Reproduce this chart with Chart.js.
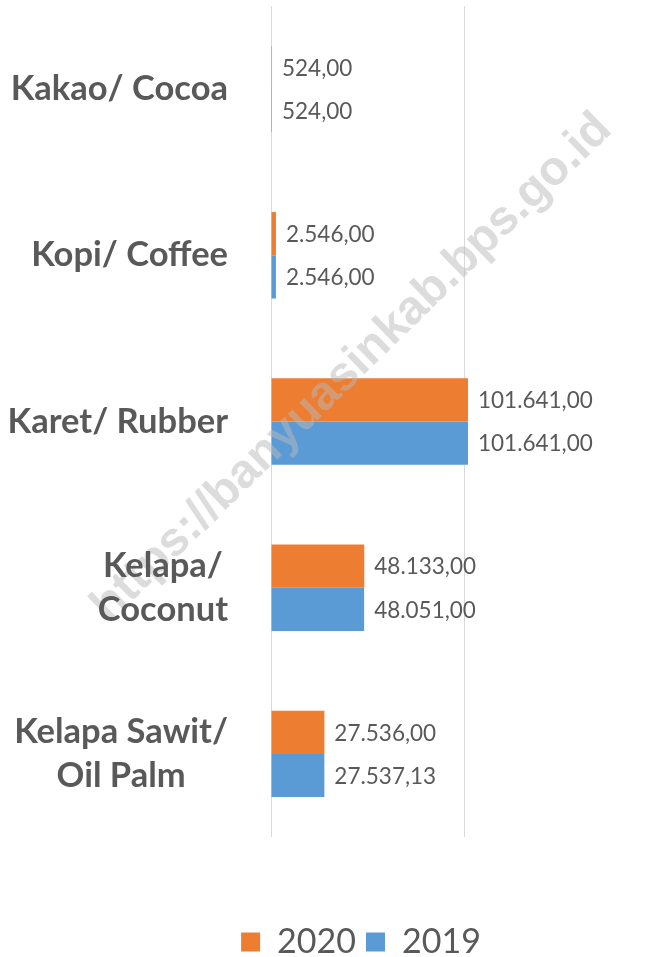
<!DOCTYPE html>
<html>
<head>
<meta charset="utf-8">
<script src="https://cdn.jsdelivr.net/npm/chart.js@4.4.1/dist/chart.umd.min.js"></script>
<style>
  html, body { margin: 0; padding: 0; background: #fff; }
  #wrap { width: 647px; height: 957px; }
</style>
</head>
<body>
<div id="wrap"><canvas id="chart"></canvas></div>
<script>
const categories = [['Kakao/ Cocoa'], ['Kopi/ Coffee'], ['Karet/ Rubber'], ['Kelapa/', 'Coconut'], ['Kelapa Sawit/', 'Oil Palm']];
const values2020 = [524, 2546, 101641, 48133, 27536];
const values2019 = [524, 2546, 101641, 48051, 27537.13];
const seriesNames = ['2020', '2019'];
const gridTicks = [0, 100000];

const textColor = '#595959';
const watermark = 'https://banyuasinkab.bps.go.id';

function formatId(v) {
    const parts = v.toFixed(2).split('.');
    return parts[0].replace(/\B(?=(\d{3})+(?!\d))/g, '.') + ',' + parts[1];
}

// category names: block right aligned next to the axis, lines centered
const categoryLabels = {
    id: 'categoryLabels',
    afterDraw(chart) {
        const ctx = chart.ctx;
        const y = chart.scales.y;
        const lineHeight = 44;
        ctx.save();
        ctx.font = 'bold 34.5px Lato';
        ctx.fillStyle = textColor;
        ctx.textAlign = 'center';
        ctx.textBaseline = 'middle';
        categories.forEach((lines, i) => {
            const maxW = Math.max(...lines.map(l => ctx.measureText(l).width));
            const cx = 228 - maxW / 2;
            const top = y.getPixelForValue(i) - (lines.length - 1) * lineHeight / 2;
            lines.forEach((line, j) => ctx.fillText(line, cx, top + j * lineHeight));
        });
        ctx.restore();
    }
};

const valueLabels = {
    id: 'valueLabels',
    afterDatasetsDraw(chart) {
        const ctx = chart.ctx;
        ctx.save();
        ctx.font = '22.5px Lato';
        ctx.fillStyle = textColor;
        ctx.textAlign = 'left';
        ctx.textBaseline = 'middle';
        chart.data.datasets.forEach((ds, di) => {
            chart.getDatasetMeta(di).data.forEach((bar, i) => {
                ctx.fillText(formatId(ds.data[i]), bar.x + 10, bar.y + 1);
            });
        });
        ctx.restore();
    }
};

const watermarkText = {
    id: 'watermarkText',
    afterDraw(chart) {
        const ctx = chart.ctx;
        ctx.save();
        ctx.translate(352, 368);
        ctx.rotate(-44.3 * Math.PI / 180);
        ctx.font = 'bold 40px "Liberation Sans"';
        const w = ctx.measureText(watermark).width;
        const size = 40 * 705 / w;
        ctx.font = 'bold ' + size + 'px "Liberation Sans"';
        ctx.fillStyle = 'rgba(185, 185, 185, 0.5)';
        ctx.textAlign = 'center';
        ctx.textBaseline = 'middle';
        ctx.fillText(watermark, 0, 0);
        ctx.restore();
    }
};

new Chart(document.getElementById('chart'), {
    type: 'bar',
    data: {
        labels: categories,
        datasets: [
            { label: seriesNames[0], data: values2020, backgroundColor: '#ED7D31' },
            { label: seriesNames[1], data: values2019, backgroundColor: '#5B9BD5' }
        ]
    },
    options: {
        indexAxis: 'y',
        responsive: true,
        maintainAspectRatio: false,
        animation: false,
        categoryPercentage: 0.52,
        barPercentage: 1,
        layout: { padding: { left: 75, right: 0, top: 6, bottom: -12 } },
        scales: {
            x: {
                min: 0,
                max: 194000,
                afterBuildTicks: scale => { scale.ticks = gridTicks.map(v => ({ value: v })); },
                afterFit: scale => { scale.height = 78; },
                ticks: { display: false },
                grid: { color: '#d9d9d9', drawTicks: false },
                border: { display: false }
            },
            y: {
                afterFit: scale => { scale.width = 196; },
                ticks: { display: false },
                grid: { display: false },
                border: { display: false }
            }
        },
        plugins: {
            legend: {
                position: 'bottom',
                labels: {
                    boxWidth: 19,
                    boxHeight: 19,
                    color: textColor,
                    font: { family: 'Lato', size: 34 },
                    padding: 10
                }
            },
            tooltip: { enabled: false }
        }
    },
    plugins: [valueLabels, watermarkText, categoryLabels]
});
</script>
</body>
</html>
